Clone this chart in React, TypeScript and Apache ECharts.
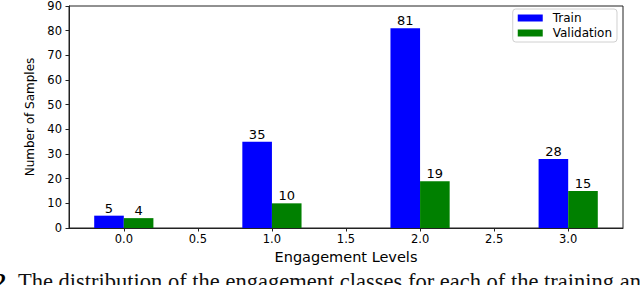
import React, { useEffect, useRef } from "react";
import * as echarts from "echarts";

const levels = [0, 1, 2, 3];
const trainCounts = [5, 35, 81, 28];
const validationCounts = [4, 10, 19, 15];
const xTicks = [0, 0.5, 1, 1.5, 2, 2.5, 3];
const seriesNames = ["Train", "Validation"];
const captionNumber = "2.";
const captionText = "The distribution of the engagement classes for each of the training an";

export default function App() {
  const ref = useRef<HTMLDivElement>(null);
  useEffect(() => {
    document.body.style.margin = "0";
    const chart = echarts.init(ref.current!, null, { renderer: "svg" });
    const font = "DejaVu Sans";
    const label = {
      show: true,
      position: "top",
      distance: 1,
      color: "#000",
      fontFamily: font,
      fontSize: 13,
    };
    chart.setOption({
      animation: false,
      backgroundColor: "#fff",
      textStyle: { fontFamily: font },
      grid: {
        left: 69,
        right: 17,
        top: 4,
        bottom: 57,
        show: true,
        borderColor: "#222",
        borderWidth: 1,
        backgroundColor: "transparent",
      },
      legend: {
        orient: "vertical",
        right: 23,
        top: 9,
        data: seriesNames,
        icon: "rect",
        itemWidth: 25,
        itemHeight: 7,
        itemGap: 1,
        padding: [2, 5, 2, 5],
        borderColor: "#d0d0d0",
        borderWidth: 1,
        borderRadius: 3,
        backgroundColor: "rgba(255,255,255,0.8)",
        textStyle: {
          fontFamily: font,
          fontSize: 12,
          lineHeight: 14,
          color: "#000",
          padding: [0, 0, 0, 5],
        },
      },
      xAxis: {
        type: "value",
        min: -0.37,
        max: 3.37,
        name: "Engagement Levels",
        nameLocation: "middle",
        nameGap: 17,
        nameTextStyle: { fontFamily: font, fontSize: 14.5, color: "#000" },
        axisLine: { show: true, onZero: false, lineStyle: { color: "#222", width: 1 } },
        axisTick: {
          show: true,
          customValues: xTicks,
          length: 3.5,
          lineStyle: { color: "#222" },
        },
        axisLabel: {
          customValues: xTicks,
          formatter: (v: number) => v.toFixed(1),
          fontFamily: font,
          fontSize: 11.5,
          color: "#000",
          margin: 5,
        },
        splitLine: { show: false },
      },
      yAxis: {
        type: "value",
        min: 0,
        max: 90,
        interval: 10,
        name: "Number of Samples",
        nameLocation: "middle",
        nameGap: 31,
        nameTextStyle: { fontFamily: font, fontSize: 12, color: "#000" },
        axisLine: { show: true, onZero: false, lineStyle: { color: "#222", width: 1 } },
        axisTick: { show: true, length: 3.5, lineStyle: { color: "#222" } },
        axisLabel: { fontFamily: font, fontSize: 11.5, color: "#000", margin: 7 },
        splitLine: { show: false },
      },
      series: [
        {
          name: seriesNames[0],
          type: "bar",
          data: levels.map((l, i) => [l, trainCounts[i]]),
          barWidth: 29.6,
          barGap: "0%",
          itemStyle: { color: "#0000ff" },
          label,
        },
        {
          name: seriesNames[1],
          type: "bar",
          data: levels.map((l, i) => [l, validationCounts[i]]),
          barWidth: 29.6,
          barGap: "0%",
          itemStyle: { color: "#008000" },
          label,
        },
      ],
      graphic: [
        {
          type: "text",
          left: -5,
          top: 270,
          style: {
            text: captionNumber,
            font: "bold 22.5px 'Liberation Serif'",
            fill: "#000",
          },
        },
        {
          type: "text",
          left: 18,
          top: 270,
          style: {
            text: captionText,
            font: "22.5px 'Liberation Serif'",
            fill: "#111",
          },
        },
      ],
    });
    return () => chart.dispose();
  }, []);
  return (
    <div
      ref={ref}
      style={{ position: "absolute", left: 0, top: 0, width: 640, height: 285 }}
    />
  );
}
